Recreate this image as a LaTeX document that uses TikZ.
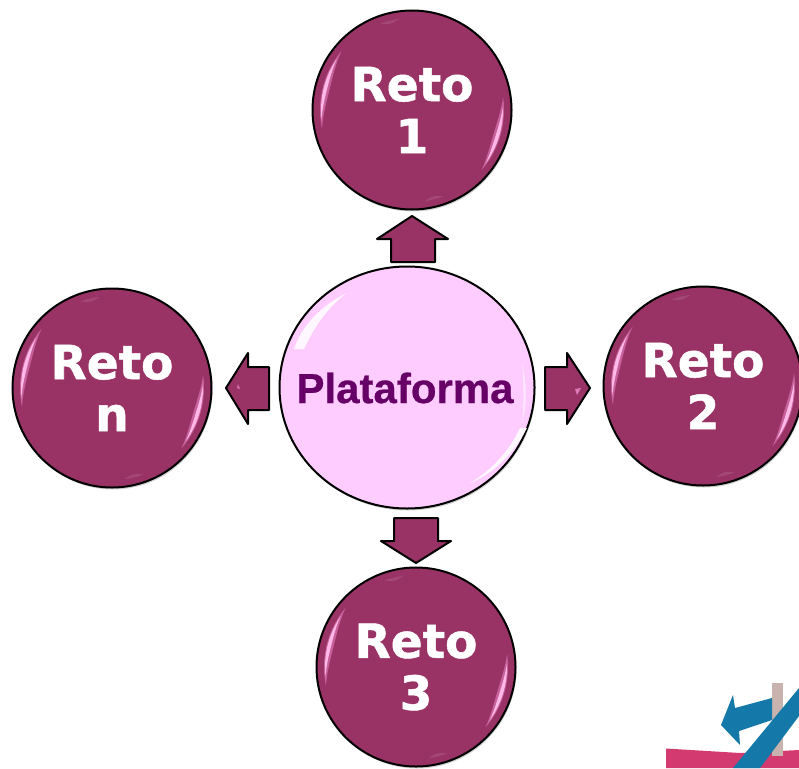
\documentclass[tikz,border=0pt]{standalone}
\usepackage{fontspec}
\setmainfont{DejaVu Sans}
\newfontfamily\retofont{DejaVu Sans Bold}[FakeBold=1.1]
\newfontfamily\platfont{Liberation Sans Bold}[FakeBold=0.6]
\usetikzlibrary{shadows,shapes.geometric}
\definecolor{reto}{HTML}{993366}
\definecolor{platfill}{HTML}{FFCCFF}
\definecolor{plattext}{HTML}{660066}
\definecolor{shine}{HTML}{FF99DD}
\definecolor{logoblue}{HTML}{1479A9}
\definecolor{logopink}{HTML}{D23A70}
\definecolor{logopost}{HTML}{C9B3AE}
\newcommand{\crescent}[7]{% cx cy a1 a2 R w style
  \fill[#7] plot[domain=#3:#4,samples=14] ({#1+#5*cos(\x)},{#2+#5*sin(\x)})
    -- plot[domain=#4:#3,samples=14] ({#1+(#5-#6*sin(180*(\x-(#3))/(#4-(#3))))*cos(\x)},{#2+(#5-#6*sin(180*(\x-(#3))/(#4-(#3))))*sin(\x)}) -- cycle;}
\newcommand{\shinepair}[2]{%
  \crescent{#1}{#2}{168}{220}{92}{7}{shine,opacity=.45}
  \crescent{#1}{#2}{174}{214}{91}{3.5}{shine!70!white}
  \crescent{#1}{#2}{-8}{41}{92}{7}{shine,opacity=.45}
  \crescent{#1}{#2}{-2}{36}{91}{3.5}{shine!70!white}
  \crescent{#1}{#2}{250}{262}{92}{3}{white,opacity=.1}
  \crescent{#1}{#2}{70}{82}{92}{3}{white,opacity=.1}}
\tikzset{
  retonode/.style={circle,draw=black,line width=2pt,fill=reto,minimum size=199pt,inner sep=0pt,
    align=center,text=white,font=\retofont\fontsize{47}{52}\selectfont,
    general shadow={shadow xshift=1pt,shadow yshift=-2pt,fill=black,opacity=.18}},
  platnode/.style={ellipse,draw=black,line width=2pt,fill=platfill,minimum width=255pt,minimum height=242pt,inner sep=0pt,
    general shadow={shadow xshift=1pt,shadow yshift=-2pt,fill=black,opacity=.18}},
  plattextnode/.style={text=plattext,font=\platfont\fontsize{42}{46}\selectfont,inner sep=0pt},
  blockarrow/.style={draw=black,line width=2pt,fill=reto,line join=round}
}
\begin{document}
\begin{tikzpicture}[x=1pt,y=-1pt]
\useasboundingbox (0,0) rectangle (799,768);
\fill[white] (0,0) rectangle (799,768);
\begin{scope}
\clip (0,0) rectangle (799,768);
% logo fragment
\fill[logopink] (666,748.5) -- (740,753) -- (799,750) -- (799,768) -- (666,768) -- cycle;
\fill[logopost] (772,683) rectangle (783,756);
\fill[logoblue] (721,725) -- (733,695) -- (735,708) -- (772,698) -- (772,720) -- (739,731) -- (740,745) -- cycle;
\fill[logoblue] (733,768) -- (799,688) -- (799,716) -- (760,768) -- cycle;
% block arrows
\draw[blockarrow] (412,216) -- (448,239) -- (435,239) -- (435,262) -- (391,262) -- (391,239) -- (377,239) -- cycle;
\draw[blockarrow] (416,563) -- (381,541) -- (394,541) -- (394,518) -- (438,518) -- (438,541) -- (451,541) -- cycle;
\draw[blockarrow] (226,388) -- (248,353) -- (248,367) -- (269,367) -- (269,410) -- (248,410) -- (248,424) -- cycle;
\draw[blockarrow] (590,388) -- (567,353) -- (567,367) -- (545,367) -- (545,410) -- (567,410) -- (567,424) -- cycle;
\fill[shine,opacity=.6] (238,384) -- (240,389) -- (237,388) -- cycle;
\fill[shine,opacity=.7] (575,389) -- (581,388) -- (577,395) -- cycle;
% circles
\node[retonode] (reto1) at (412,110) {Reto\\1};
\node[retonode] (reto2) at (703,386) {Reto\\2};
\node[retonode] (reto3) at (416,667) {Reto\\3};
\node[retonode] (reton) at (112,388) {Reto\\n};
\shinepair{412}{110}
\shinepair{703}{386}
\shinepair{416}{667}
\shinepair{112}{388}
\node[platnode] (plat) at (407,387.5) {};
% platform shines
\fill[white,opacity=.85] (294,349) .. controls (302,325) and (322,305) .. (347,293) .. controls (330,305) and (315,325) .. (304,349) -- cycle;
\fill[white,opacity=.85] (520,428) .. controls (510,450) and (492,470) .. (470,483) .. controls (488,476) and (512,458) .. (527,428) -- cycle;
\fill[white,opacity=.55] (522,363) .. controls (524,385) and (524,405) .. (522,423) .. controls (527,405) and (527,385) .. (522,363) -- cycle;
\node[plattextnode] (plattxt) at (405,388) {Plataforma};
\end{scope}
\end{tikzpicture}
\end{document}
